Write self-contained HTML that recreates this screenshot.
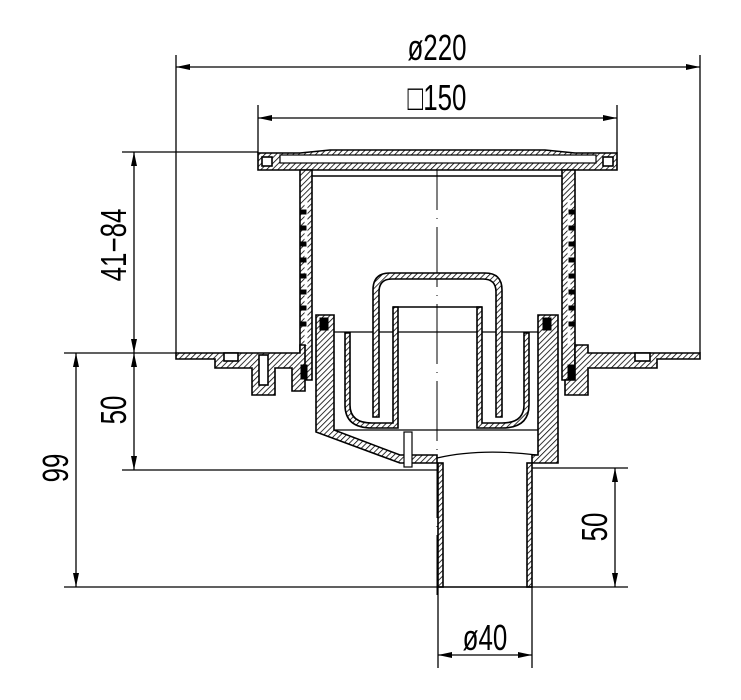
<!DOCTYPE html>
<html><head><meta charset="utf-8"><style>
html,body{margin:0;padding:0;background:#fff;}
svg{display:block;}
text{font-family:"Liberation Sans",sans-serif;fill:#000;}
</style></head><body>
<svg width="741" height="700" viewBox="0 0 741 700" xmlns="http://www.w3.org/2000/svg">
<defs>
<pattern id="h" width="4" height="4" patternUnits="userSpaceOnUse" patternTransform="rotate(45)">
<rect width="4" height="4" fill="#fff"/><line x1="0" y1="0" x2="0" y2="4" stroke="#000" stroke-width="1.6"/>
</pattern>
<marker id="a" viewBox="0 0 14 6" refX="14" refY="3" markerWidth="14" markerHeight="6" markerUnits="userSpaceOnUse" orient="auto-start-reverse">
<path d="M0,0 L14,3 L0,6 z" fill="#000"/></marker>
</defs>
<g stroke="#000" stroke-width="1.3" fill="none">
<!-- extension lines -->
<line x1="176" y1="55" x2="176" y2="353"/>
<line x1="700" y1="55" x2="700" y2="353"/>
<line x1="258" y1="105" x2="258" y2="153"/>
<line x1="617" y1="105" x2="617" y2="153"/>
<line x1="122" y1="152" x2="258" y2="152"/>
<line x1="64" y1="353" x2="176" y2="353"/>
<line x1="122" y1="470" x2="437" y2="470"/>
<line x1="64" y1="587" x2="438" y2="587"/>
<line x1="532" y1="468" x2="628" y2="468"/>
<line x1="532" y1="587" x2="628" y2="587"/>
<line x1="438" y1="587" x2="438" y2="668"/>
<line x1="532" y1="587" x2="532" y2="668"/>
<!-- dimension lines -->
<line x1="176" y1="67" x2="700" y2="67" marker-start="url(#a)" marker-end="url(#a)"/>
<line x1="258" y1="118" x2="617" y2="118" marker-start="url(#a)" marker-end="url(#a)"/>
<line x1="134" y1="152" x2="134" y2="353" marker-start="url(#a)" marker-end="url(#a)"/>
<line x1="134" y1="353" x2="134" y2="470" marker-start="url(#a)" marker-end="url(#a)"/>
<line x1="76" y1="353" x2="76" y2="587" marker-start="url(#a)" marker-end="url(#a)"/>
<line x1="615" y1="468" x2="615" y2="587" marker-start="url(#a)" marker-end="url(#a)"/>
<line x1="438" y1="655" x2="532" y2="655" marker-start="url(#a)" marker-end="url(#a)"/>
<!-- centre line -->
<line x1="437" y1="150" x2="437" y2="600" stroke-width="1" stroke-dasharray="60,8,1,8"/>
</g>
<g stroke="#000" stroke-width="1.6">
<!-- grate -->
<path d="M258,153 L300,153 L330,150 L545,150 L575,153 L617,153 L617,170 L258,170 Z" fill="url(#h)"/>
<rect x="280" y="155" width="316" height="8" fill="#fff" stroke-width="1.2"/>
<rect x="262" y="157" width="10" height="9" fill="#fff"/>
<rect x="603" y="157" width="10" height="9" fill="#fff"/>
<line x1="308" y1="176" x2="567" y2="176" stroke-width="1.4"/>
<!-- outer body walls -->
<path d="M300,170 L312,170 L312,380 L300,380 Z" fill="url(#h)"/>
<path d="M562,170 L575,170 L575,380 L562,380 Z" fill="url(#h)"/>
<line x1="306" y1="200" x2="306" y2="345" stroke="#fff" stroke-width="3"/>
<line x1="569" y1="200" x2="569" y2="345" stroke="#fff" stroke-width="3"/>
<!-- left flange -->
<path d="M176,353 L300,353 L300,345 L305,345 L305,391 L292,391 L292,368 L275,368 L275,395 L252,395 L252,368 L215,368 L215,359 L176,359 Z" fill="url(#h)"/>
<rect x="224" y="353" width="14" height="8" fill="#fff"/>
<rect x="259" y="355" width="9" height="30" fill="#fff"/>
<!-- right flange -->
<path d="M575,345 L588,345 L588,353 L700,353 L700,359 L657,359 L657,368 L588,368 L588,395 L565,395 L565,380 L575,380 Z" fill="url(#h)"/>
<rect x="635" y="353" width="15" height="8" fill="#fff"/>
<!-- inner body -->
<path d="M316,315 L334,315 L334,430 L400,455 L437,455 L437,463 L400,463 L316,432 Z" fill="url(#h)"/>
<path d="M538,315 L558,315 L558,463 L532,463 L532,455 L538,455 Z" fill="url(#h)"/>
<line x1="334" y1="430" x2="538" y2="430" stroke-width="1.3"/>
<path d="M437,458 Q480,448 537,455" fill="none" stroke-width="1.2"/>
<!-- bowl -->
<path d="M334,332 L538,332" fill="none" stroke-width="1.3"/>
<path d="M345,333 L345,405 Q345,428 372,428 L398,428 L398,307 L393,307 L393,423 L372,423 Q350,423 350,405 L350,333 Z" fill="url(#h)"/>
<path d="M529,333 L529,405 Q529,428 502,428 L477,428 L477,307 L482,307 L482,423 L502,423 Q524,423 524,405 L524,333 Z" fill="url(#h)"/>
<line x1="393" y1="307" x2="482" y2="307" stroke-width="1.6"/>
<!-- bell -->
<path d="M373,417 L373,290 Q373,273 390,273 L485,273 Q502,273 502,290 L502,417 L496,417 L496,292 Q496,279 483,279 L392,279 Q379,279 379,292 L379,417 Z" fill="url(#h)"/>
<!-- screw -->
<rect x="404" y="432" width="8" height="35" fill="#fff" stroke-width="1.2"/>
<!-- pipe -->
<rect x="438" y="463" width="5" height="124" fill="url(#h)"/>
<rect x="527" y="463" width="5" height="124" fill="url(#h)"/>
<line x1="438" y1="587" x2="532" y2="587"/>
</g>
<g stroke="#000" fill="#000">
<rect x="300" y="210" width="6" height="4"/><rect x="300" y="226" width="6" height="4"/><rect x="300" y="242" width="6" height="4"/><rect x="300" y="258" width="6" height="4"/><rect x="300" y="274" width="6" height="4"/><rect x="300" y="290" width="6" height="4"/><rect x="300" y="306" width="6" height="4"/><rect x="300" y="322" width="6" height="4"/>
<rect x="569" y="210" width="6" height="4"/><rect x="569" y="226" width="6" height="4"/><rect x="569" y="242" width="6" height="4"/><rect x="569" y="258" width="6" height="4"/><rect x="569" y="274" width="6" height="4"/><rect x="569" y="290" width="6" height="4"/><rect x="569" y="306" width="6" height="4"/><rect x="569" y="322" width="6" height="4"/>
<rect x="320" y="318" width="8" height="12"/><rect x="543" y="318" width="8" height="12"/>
<rect x="301" y="365" width="6" height="14"/><rect x="568" y="365" width="6" height="14"/>
</g>
<g font-size="36">
<text x="437" y="60" text-anchor="middle" transform="translate(437 0) scale(0.72 1) translate(-437 0)">ø220</text>
<text x="437" y="110" text-anchor="middle" transform="translate(437 0) scale(0.72 1) translate(-437 0)">□150</text>
<text x="485" y="650" text-anchor="middle" transform="translate(485 0) scale(0.72 1) translate(-485 0)">ø40</text>
<text transform="translate(126 245) rotate(-90) scale(0.72 1)" text-anchor="middle">41−84</text>
<text transform="translate(126 410) rotate(-90) scale(0.72 1)" text-anchor="middle">50</text>
<text transform="translate(68 468) rotate(-90) scale(0.72 1)" text-anchor="middle">99</text>
<text transform="translate(607 527) rotate(-90) scale(0.72 1)" text-anchor="middle">50</text>
</g>
</svg>
</body></html>
